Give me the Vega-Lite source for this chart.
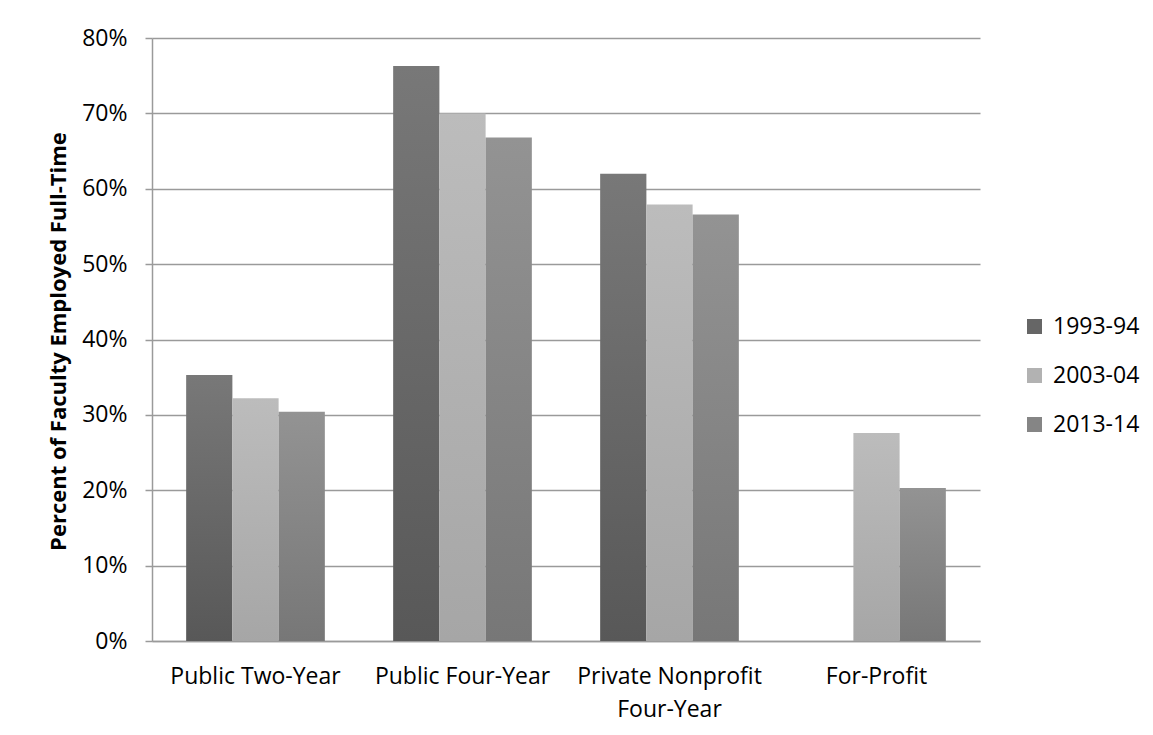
{
  "$schema": "https://vega.github.io/schema/vega-lite/v6.json",
  "autosize": "none",
  "width": 828,
  "height": 603,
  "padding": {"left": 152, "top": 38, "right": 173, "bottom": 94},
  "background": "white",
  "data": {
    "values": [
      {"sector": "Public Two-Year", "year": "1993-94", "pct": 0.353},
      {"sector": "Public Two-Year", "year": "2003-04", "pct": 0.322},
      {"sector": "Public Two-Year", "year": "2013-14", "pct": 0.304},
      {"sector": "Public Four-Year", "year": "1993-94", "pct": 0.763},
      {"sector": "Public Four-Year", "year": "2003-04", "pct": 0.700},
      {"sector": "Public Four-Year", "year": "2013-14", "pct": 0.668},
      {"sector": "Private Nonprofit Four-Year", "year": "1993-94", "pct": 0.620},
      {"sector": "Private Nonprofit Four-Year", "year": "2003-04", "pct": 0.579},
      {"sector": "Private Nonprofit Four-Year", "year": "2013-14", "pct": 0.566},
      {"sector": "For-Profit", "year": "2003-04", "pct": 0.276},
      {"sector": "For-Profit", "year": "2013-14", "pct": 0.203}
    ]
  },
  "mark": {"type": "bar"},
  "encoding": {
    "x": {
      "field": "sector",
      "type": "nominal",
      "sort": ["Public Two-Year", "Public Four-Year", "Private Nonprofit Four-Year", "For-Profit"],
      "scale": {"paddingInner": 0.33, "paddingOuter": 0.165},
      "axis": {
        "title": null,
        "labelAngle": 0,
        "ticks": false,
        "tickSize": 0,
        "labelPadding": 24,
        "labelLimit": 0,
        "labelFont": "Open Sans",
        "labelFontSize": 23,
        "labelColor": "#000000",
        "labelBaseline": "top",
        "labelLineHeight": 33,
        "labelExpr": "datum.label == 'Private Nonprofit Four-Year' ? ['Private Nonprofit', 'Four-Year'] : datum.label",
        "domainColor": "#9a9a9a",
        "domainWidth": 1.5,
        "grid": false
      }
    },
    "xOffset": {
      "field": "year",
      "type": "nominal",
      "scale": {"domain": ["1993-94", "2003-04", "2013-14"], "paddingInner": 0, "paddingOuter": 0}
    },
    "y": {
      "field": "pct",
      "type": "quantitative",
      "scale": {"domain": [0, 0.8], "nice": false},
      "axis": {
        "title": "Percent of Faculty Employed Full-Time",
        "titleFont": "Open Sans",
        "titleFontSize": 22,
        "titleFontWeight": "bold",
        "titleColor": "#000000",
        "titleAngle": -90,
        "titleBaseline": "alphabetic",
        "titleAlign": "center",
        "titleX": -87,
        "titleY": 303,
        "values": [0, 0.1, 0.2, 0.3, 0.4, 0.5, 0.6, 0.7, 0.8],
        "format": ".0%",
        "labelFont": "Open Sans",
        "labelFontSize": 23,
        "labelColor": "#000000",
        "labelPadding": 18,
        "tickSize": 7,
        "tickColor": "#9a9a9a",
        "tickWidth": 1.5,
        "domainColor": "#9a9a9a",
        "domainWidth": 1.5,
        "grid": true,
        "gridColor": "#9a9a9a",
        "gridWidth": 1.5
      }
    },
    "color": {
      "field": "year",
      "type": "nominal",
      "scale": {"domain": ["1993-94", "2003-04", "2013-14"], "range": ["#666666", "#b2b2b2", "#858585"]},
      "legend": {
        "title": null,
        "orient": "none",
        "legendX": 871,
        "legendY": 277,
        "padding": 0,
        "symbolType": "square",
        "symbolSize": 225,
        "symbolStrokeWidth": 0,
        "labelFont": "Open Sans",
        "labelFontSize": 23,
        "labelColor": "#000000",
        "labelOffset": 7,
        "rowPadding": 25
      },
      "condition": [
        {"test": "datum.year === '1993-94'", "value": {"gradient": "linear", "x1": 0, "y1": 1, "x2": 0, "y2": 0, "stops": [{"offset": 0, "color": "#585858"}, {"offset": 1, "color": "#787878"}]}},
        {"test": "datum.year === '2003-04'", "value": {"gradient": "linear", "x1": 0, "y1": 1, "x2": 0, "y2": 0, "stops": [{"offset": 0, "color": "#a6a6a6"}, {"offset": 1, "color": "#bcbcbc"}]}},
        {"test": "datum.year === '2013-14'", "value": {"gradient": "linear", "x1": 0, "y1": 1, "x2": 0, "y2": 0, "stops": [{"offset": 0, "color": "#777777"}, {"offset": 1, "color": "#939393"}]}}
      ]
    }
  },
  "config": {
    "view": {"stroke": null},
    "font": "Open Sans"
  }
}
